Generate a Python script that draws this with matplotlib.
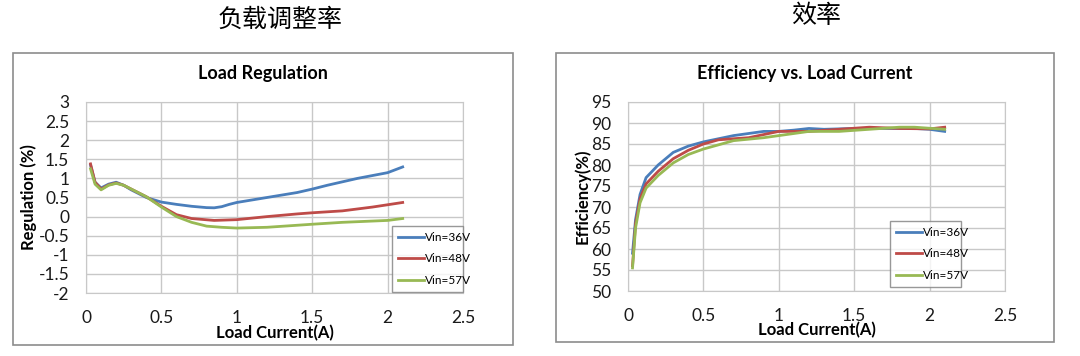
import matplotlib
matplotlib.use("Agg")
import matplotlib.pyplot as plt
from matplotlib.patches import Rectangle
import numpy as np

plt.rcParams['font.family'] = ['Lato', 'DejaVu Sans']

series_names = ['Vin=36V', 'Vin=48V', 'Vin=57V']
colors = ['#4A7EBB', '#BE4B48', '#98B954']

# load regulation (%)
reg_x36 = [0.03, 0.06, 0.1, 0.15, 0.2, 0.25, 0.3, 0.4, 0.5, 0.6, 0.7, 0.8, 0.85, 0.9, 0.95, 1.0, 1.2, 1.4, 1.5, 1.6, 1.8, 2.0, 2.1]
reg_y36 = [1.35, 0.9, 0.75, 0.85, 0.9, 0.82, 0.7, 0.5, 0.38, 0.32, 0.27, 0.235, 0.23, 0.26, 0.32, 0.37, 0.5, 0.63, 0.72, 0.82, 1.0, 1.15, 1.3]
reg_x48 = [0.03, 0.06, 0.1, 0.15, 0.2, 0.25, 0.3, 0.4, 0.5, 0.6, 0.7, 0.85, 1.0, 1.2, 1.4, 1.5, 1.7, 1.9, 2.1]
reg_y48 = [1.38, 0.9, 0.72, 0.83, 0.88, 0.82, 0.72, 0.52, 0.27, 0.05, -0.05, -0.1, -0.08, 0.0, 0.07, 0.1, 0.15, 0.25, 0.37]
reg_x57 = [0.03, 0.06, 0.1, 0.15, 0.2, 0.25, 0.3, 0.4, 0.5, 0.6, 0.7, 0.8, 0.9, 1.0, 1.2, 1.5, 1.7, 2.0, 2.1]
reg_y57 = [1.25, 0.85, 0.7, 0.82, 0.87, 0.82, 0.72, 0.52, 0.25, 0.0, -0.15, -0.25, -0.28, -0.3, -0.28, -0.2, -0.15, -0.1, -0.05]

# efficiency (%)
eff_x36 = [0.03, 0.05, 0.08, 0.12, 0.2, 0.3, 0.4, 0.5, 0.7, 0.9, 1.0, 1.1, 1.2, 1.3, 1.5, 1.7, 1.9, 2.0, 2.1]
eff_y36 = [59, 67, 73, 77, 80, 83, 84.5, 85.5, 87, 88, 88, 88.3, 88.7, 88.5, 88.7, 88.7, 88.7, 88.5, 88]
eff_x48 = [0.03, 0.05, 0.08, 0.12, 0.2, 0.3, 0.4, 0.5, 0.6, 0.8, 1.0, 1.2, 1.4, 1.6, 1.8, 2.0, 2.1]
eff_y48 = [56, 66, 72, 75.5, 78.5, 81.5, 83.5, 85, 86, 86.5, 88, 88, 88.5, 89, 88.7, 88.6, 89]
eff_x57 = [0.03, 0.05, 0.08, 0.12, 0.2, 0.3, 0.4, 0.5, 0.7, 0.9, 1.0, 1.2, 1.4, 1.6, 1.8, 1.9, 2.1]
eff_y57 = [55.5, 65, 71, 74.5, 77.5, 80.5, 82.5, 83.8, 85.8, 86.5, 87, 88, 88, 88.5, 89, 89, 88.5]

W, H = 1080, 356
fig = plt.figure(figsize=(W / 100, H / 100), dpi=100)


def fx(px):
    return px / W


def fy(py):
    return 1 - py / H


def panel(box, area, title, ylabel, ylim, ystep, data, legend_box, title_y, xlab_y, ylab_x):
    x0, y0, x1, y1 = box
    fig.patches.append(Rectangle((fx(x0), fy(y1)), fx(x1 - x0), (y1 - y0) / H,
                                 transform=fig.transFigure, fill=False,
                                 edgecolor='#8c8c8c', linewidth=1.2))
    ax0, ay0, ax1, ay1 = area
    ax = fig.add_axes([fx(ax0), fy(ay1), fx(ax1 - ax0), (ay1 - ay0) / H])
    for (xs, ys), name, c in zip(data, series_names, colors):
        ax.plot(xs, ys, color=c, linewidth=2, label=name, solid_joinstyle='round')
    ax.set_xlim(0, 2.5)
    ax.set_ylim(*ylim)
    ax.set_xticks(np.arange(0, 2.51, 0.5))
    ax.set_xticklabels(['0', '0.5', '1', '1.5', '2', '2.5'])
    yt = np.arange(ylim[0], ylim[1] + 1e-9, ystep)
    ax.set_yticks(yt)
    ax.set_yticklabels(['%g' % v for v in yt])
    ax.grid(True, color='#c8c8c8', linewidth=1)
    ax.set_axisbelow(True)
    for s in ax.spines.values():
        s.set_color('#c8c8c8')
    ax.tick_params(length=0, labelsize=12.5, colors='#1a1a1a')
    ax.tick_params(axis='x', pad=12)
    ax.tick_params(axis='y', pad=12)
    fig.text(fx((x0 + x1) / 2), fy(title_y), title, fontsize=13,
             fontweight='bold', ha='center', va='center')
    ax.set_xlabel('Load Current(A)', fontsize=12, fontweight='bold')
    ax.xaxis.set_label_coords(fx((x0 + x1) / 2 + 12), fy(xlab_y), transform=fig.transFigure)
    ax.xaxis.label.set_va('center')
    ax.set_ylabel(ylabel, fontsize=12, fontweight='bold')
    ax.yaxis.set_label_coords(fx(ylab_x), fy((ay0 + ay1) / 2), transform=fig.transFigure)
    ax.yaxis.label.set_va('center')
    lx0, ly0, lx1, ly1 = legend_box
    leg = ax.legend(loc='lower left',
                    bbox_to_anchor=(fx(lx0), fy(ly1), fx(lx1 - lx0), (ly1 - ly0) / H),
                    bbox_transform=fig.transFigure, mode='expand',
                    fontsize=8.5, frameon=True, fancybox=False, handlelength=2.2,
                    handletextpad=0.1, borderpad=0.5, labelspacing=0.9,
                    borderaxespad=0)
    leg.get_frame().set_edgecolor('#7f7f7f')
    leg.get_frame().set_linewidth(1.0)
    return ax


panel((13, 53, 513, 345), (86, 102, 463, 293), 'Load Regulation', 'Regulation (%)',
      (-2, 3), 0.5,
      [(reg_x36, reg_y36), (reg_x48, reg_y48), (reg_x57, reg_y57)],
      (392, 232, 463, 292), 74, 333, 29)
panel((556, 53, 1054, 342), (628, 102, 1005, 291), 'Efficiency vs. Load Current', 'Efficiency(%)',
      (50, 95), 5,
      [(eff_x36, eff_y36), (eff_x48, eff_y48), (eff_x57, eff_y57)],
      (890, 228, 961, 287), 74, 330, 582)

fig.text(fx(280), fy(20), '负载调整率', fontsize=18, ha='center', va='center',
         family=['Noto Sans CJK SC', 'DejaVu Sans'], fontweight='light')
fig.text(fx(816), fy(16), '效率', fontsize=18, ha='center', va='center',
         family=['Noto Sans CJK SC', 'DejaVu Sans'], fontweight='light')

fig.savefig('out.png', dpi=100)
